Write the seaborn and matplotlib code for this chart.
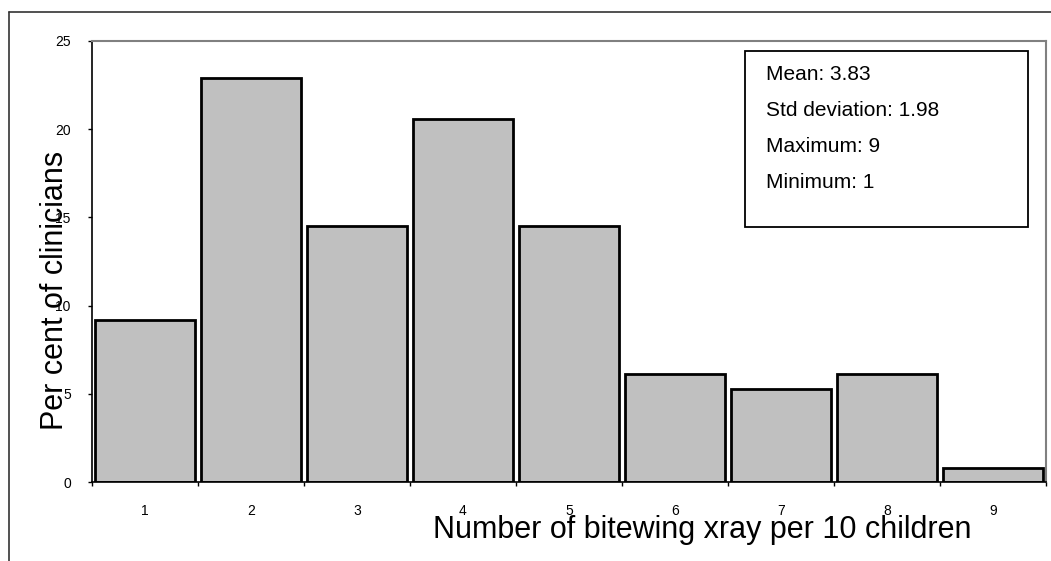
import numpy as np
import matplotlib
matplotlib.use("Agg")
import matplotlib.pyplot as plt
from matplotlib.lines import Line2D
from matplotlib.patches import Rectangle
import seaborn as sns

# ---- data ----
categories = ["1", "2", "3", "4", "5", "6", "7", "8", "9"]
percent = [9.2, 22.9, 14.5, 20.6, 14.5, 6.1, 5.3, 6.1, 0.8]
y_ticks = [0, 5, 10, 15, 20, 25]
stats_lines = ["Mean: 3.83", "Std deviation: 1.98", "Maximum: 9", "Minimum: 1"]
x_label = "Number of bitewing xray per 10 children"
y_label = "Per cent of clinicians"

sns.set_theme(style="ticks")
plt.rcParams["font.family"] = ["Liberation Sans", "DejaVu Sans"]

fig = plt.figure(figsize=(10.51, 5.61), dpi=100)
L, R, T, B = 91.7, 1046, 41, 482
W, H = 1051, 561
ax = fig.add_axes([L / W, 1 - B / H, (R - L) / W, (B - T) / H])

sns.barplot(x=categories, y=percent, order=categories, color="#c0c0c0",
            saturation=1, edgecolor="black", linewidth=2, width=0.94, ax=ax)

ax.set_xlim(-0.5, len(categories) - 0.5)
ax.set_ylim(0, 25)
ax.set_yticks(y_ticks)
ax.set_yticklabels([str(v) for v in y_ticks])
ax.set_xticks(np.arange(-0.5, len(categories), 1), minor=True)

ax.tick_params(axis="x", which="major", length=0, pad=16, labelsize=10, colors="black")
ax.tick_params(axis="x", which="minor", length=3, width=1, direction="out", color="black")
ax.tick_params(axis="y", which="major", length=3, width=1, direction="out", pad=12,
               labelsize=10, colors="black")

for s in ["left", "bottom"]:
    ax.spines[s].set_color("black")
    ax.spines[s].set_linewidth(1.2)
for s in ["top", "right"]:
    ax.spines[s].set_visible(True)
    ax.spines[s].set_color("#808080")
    ax.spines[s].set_linewidth(1.5)

ax.set_xlabel(x_label, fontsize=22, color="black")
ax.xaxis.label.set_va("center")
ax.xaxis.set_label_coords((702 - L) / (R - L), (B - 530) / (B - T))
ax.set_ylabel(y_label, fontsize=22, color="black")
ax.yaxis.label.set_va("center")
ax.yaxis.set_label_coords((55 - L) / (R - L), (B - 290) / (B - T))

# statistics box
bx0, bx1, by0, by1 = 745, 1028, 51, 227
ax.add_patch(Rectangle(((bx0 - L) / (R - L), (B - by1) / (B - T)),
                       (bx1 - bx0) / (R - L), (by1 - by0) / (B - T),
                       transform=ax.transAxes, facecolor="white", edgecolor="black",
                       linewidth=1.3, zorder=5))
for txt, yc in zip(stats_lines, [74, 110, 146.7, 183]):
    ax.text((765.7 - L) / (R - L), (B - yc) / (B - T), txt, transform=ax.transAxes,
            ha="left", va="center", fontsize=15, color="black", zorder=6)

# outer frame
fig.add_artist(Line2D([9 / W, 1.0], [1 - 12 / H, 1 - 12 / H], transform=fig.transFigure,
                      color="#333333", linewidth=1.2))
fig.add_artist(Line2D([9 / W, 9 / W], [1 - 12 / H, 0.0], transform=fig.transFigure,
                      color="#333333", linewidth=1.2))

fig.savefig("out.png", dpi=100, facecolor="white")
